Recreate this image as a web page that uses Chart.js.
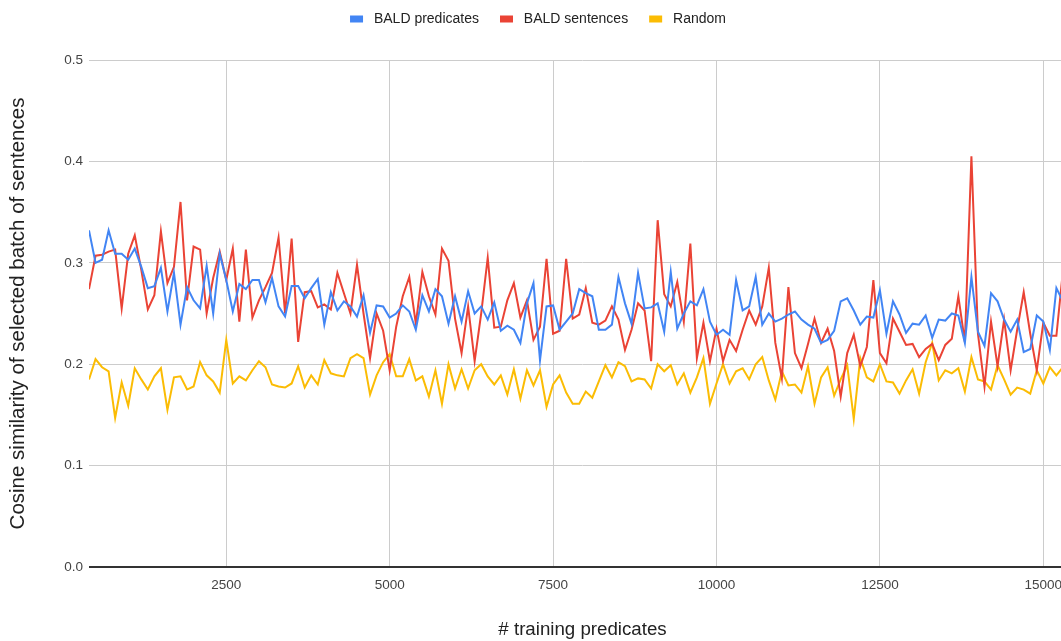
<!DOCTYPE html>
<html>
<head>
<meta charset="utf-8">
<script src="https://cdn.jsdelivr.net/npm/chart.js@4.4.1/dist/chart.umd.min.js"></script>
<style>
  html, body { margin: 0; padding: 0; overflow: hidden; background: #ffffff; }
  canvas { display: block; }
</style>
</head>
<body>
<canvas id="chart" width="1077" height="641"></canvas>
<script>
// Training set size after each acquisition batch
const firstPredicates = 400;
const predicatesPerBatch = 100;

// Mean cosine similarity inside each selected batch
const baldPredicates = [
  0.332, 0.300, 0.303, 0.332, 0.309, 0.309, 0.303, 0.314, 0.296, 0.275,
  0.277, 0.295, 0.252, 0.290, 0.239, 0.276, 0.263, 0.255, 0.297, 0.250,
  0.309, 0.283, 0.252, 0.279, 0.274, 0.283, 0.283, 0.261, 0.285, 0.257,
  0.247, 0.277, 0.277, 0.265, 0.275, 0.284, 0.239, 0.271, 0.253, 0.262,
  0.257, 0.247, 0.268, 0.231, 0.258, 0.257, 0.246, 0.250, 0.258, 0.252,
  0.234, 0.268, 0.252, 0.274, 0.267, 0.240, 0.267, 0.242, 0.272, 0.250,
  0.257, 0.244, 0.261, 0.233, 0.238, 0.234, 0.221, 0.260, 0.280, 0.204,
  0.257, 0.258, 0.234, 0.242, 0.250, 0.274, 0.270, 0.267, 0.234, 0.234,
  0.239, 0.286, 0.260, 0.240, 0.290, 0.255, 0.256, 0.260, 0.232, 0.291,
  0.235, 0.250, 0.262, 0.258, 0.274, 0.242, 0.229, 0.234, 0.229, 0.283,
  0.253, 0.257, 0.286, 0.239, 0.250, 0.242, 0.245, 0.249, 0.252, 0.244,
  0.239, 0.235, 0.221, 0.224, 0.233, 0.262, 0.265, 0.253, 0.239, 0.247,
  0.246, 0.273, 0.230, 0.262, 0.249, 0.231, 0.240, 0.239, 0.248, 0.226,
  0.244, 0.243, 0.250, 0.248, 0.221, 0.286, 0.232, 0.218, 0.270, 0.262,
  0.244, 0.232, 0.244, 0.212, 0.215, 0.248, 0.242, 0.214, 0.275, 0.262,
  0.245, 0.250
];

const baldSentences = [
  0.274, 0.307, 0.308, 0.311, 0.313, 0.255, 0.309, 0.327, 0.293, 0.254,
  0.268, 0.331, 0.280, 0.296, 0.360, 0.263, 0.316, 0.313, 0.250, 0.285,
  0.311, 0.283, 0.314, 0.242, 0.313, 0.246, 0.263, 0.276, 0.290, 0.325,
  0.250, 0.324, 0.222, 0.271, 0.272, 0.256, 0.259, 0.254, 0.290, 0.270,
  0.250, 0.298, 0.250, 0.206, 0.250, 0.233, 0.194, 0.237, 0.267, 0.286,
  0.240, 0.291, 0.267, 0.249, 0.314, 0.302, 0.245, 0.211, 0.257, 0.203,
  0.250, 0.305, 0.236, 0.237, 0.263, 0.280, 0.246, 0.263, 0.224, 0.237,
  0.304, 0.230, 0.233, 0.304, 0.245, 0.249, 0.275, 0.241, 0.239, 0.243,
  0.257, 0.244, 0.214, 0.234, 0.260, 0.253, 0.203, 0.342, 0.269, 0.257,
  0.281, 0.242, 0.319, 0.206, 0.241, 0.203, 0.235, 0.203, 0.224, 0.213,
  0.234, 0.253, 0.239, 0.257, 0.295, 0.221, 0.186, 0.276, 0.211, 0.196,
  0.220, 0.245, 0.221, 0.235, 0.213, 0.168, 0.211, 0.229, 0.198, 0.217,
  0.283, 0.211, 0.201, 0.245, 0.232, 0.219, 0.220, 0.207, 0.215, 0.220,
  0.204, 0.219, 0.225, 0.267, 0.222, 0.405, 0.230, 0.178, 0.242, 0.198,
  0.244, 0.194, 0.234, 0.271, 0.230, 0.194, 0.241, 0.228, 0.228, 0.292,
  0.250, 0.240
];

const randomBatches = [
  0.185, 0.205, 0.197, 0.193, 0.147, 0.182, 0.159, 0.196, 0.185, 0.175,
  0.188, 0.196, 0.155, 0.187, 0.188, 0.175, 0.178, 0.202, 0.189, 0.183,
  0.172, 0.224, 0.181, 0.188, 0.184, 0.194, 0.203, 0.197, 0.180, 0.178,
  0.177, 0.181, 0.198, 0.177, 0.189, 0.180, 0.204, 0.191, 0.189, 0.188,
  0.206, 0.210, 0.206, 0.170, 0.189, 0.202, 0.210, 0.188, 0.188, 0.205,
  0.184, 0.188, 0.168, 0.194, 0.161, 0.200, 0.176, 0.195, 0.176, 0.194,
  0.200, 0.188, 0.180, 0.189, 0.170, 0.195, 0.166, 0.194, 0.179, 0.194,
  0.158, 0.180, 0.189, 0.172, 0.161, 0.161, 0.173, 0.167, 0.183, 0.199,
  0.187, 0.202, 0.198, 0.183, 0.186, 0.185, 0.176, 0.200, 0.193, 0.199,
  0.180, 0.191, 0.172, 0.187, 0.206, 0.161, 0.181, 0.200, 0.181, 0.193,
  0.196, 0.185, 0.200, 0.207, 0.184, 0.165, 0.193, 0.179, 0.180, 0.172,
  0.198, 0.161, 0.187, 0.197, 0.169, 0.185, 0.199, 0.146, 0.206, 0.187,
  0.183, 0.200, 0.183, 0.182, 0.171, 0.184, 0.195, 0.171, 0.202, 0.221,
  0.184, 0.194, 0.191, 0.196, 0.173, 0.207, 0.185, 0.183, 0.175, 0.199,
  0.185, 0.170, 0.177, 0.175, 0.171, 0.194, 0.181, 0.197, 0.189, 0.197,
  0.190, 0.190
];

const seriesNames = ['BALD predicates', 'BALD sentences', 'Random'];
const xTickValues = [2500, 5000, 7500, 10000, 12500, 15000];
const yTickValues = [0, 0.1, 0.2, 0.3, 0.4, 0.5];

const FONT = '"Liberation Sans", Arial, sans-serif';
const COLORS = ['#4285F4', '#EA4335', '#FBBC04'];

const toPoints = values => values.map((v, i) => ({ x: firstPredicates + predicatesPerBatch * i, y: v }));
const lastPredicates = firstPredicates + predicatesPerBatch * (baldPredicates.length - 1);

// Leaves room between the legend row and the plot
const legendGap = {
  id: 'legendGap',
  beforeLayout(chart) {
    const lg = chart.legend;
    if (lg && !lg._gapPatched) {
      const fit = lg.fit;
      lg.fit = function () { fit.call(this); this.height += 24; };
      lg._gapPatched = true;
    }
  }
};

new Chart(document.getElementById('chart'), {
  type: 'line',
  data: {
    datasets: [baldPredicates, baldSentences, randomBatches].map((vals, k) => ({
      label: seriesNames[k],
      data: toPoints(vals),
      borderColor: COLORS[k],
      backgroundColor: COLORS[k],
      borderWidth: 2,
      pointRadius: 0,
      pointHoverRadius: 0,
      tension: 0,
      fill: false
    }))
  },
  options: {
    responsive: false,
    animation: false,
    events: [],
    layout: { padding: { top: -9, left: 0, right: 1, bottom: 0 } },
    plugins: {
      legend: {
        position: 'top',
        align: 'center',
        labels: {
          font: { family: FONT, size: 14 },
          color: '#222222',
          boxWidth: 13,
          boxHeight: 7,
          padding: 21,
          generateLabels(chart) {
            // a little extra air between each swatch and its name
            return Chart.defaults.plugins.legend.labels.generateLabels(chart)
              .map(item => Object.assign(item, { text: ' ' + item.text, lineWidth: 0 }));
          }
        }
      },
      tooltip: { enabled: false }
    },
    scales: {
      x: {
        type: 'linear',
        min: firstPredicates,
        max: lastPredicates,
        afterBuildTicks(scale) { scale.ticks = xTickValues.map(v => ({ value: v })); },
        afterFit(scale) { scale.height = 74; },
        grid: { color: '#cccccc', lineWidth: 1, drawTicks: false },
        border: { display: false },
        ticks: {
          font: { family: FONT, size: 13.5 },
          color: '#444444',
          padding: 10,
          maxRotation: 0,
          callback: v => String(v)
        },
        title: {
          display: true,
          text: '# training predicates',
          font: { family: FONT, size: 18.7 },
          color: '#222222',
          padding: { top: 0, bottom: 0 }
        }
      },
      y: {
        type: 'linear',
        min: 0,
        max: 0.5,
        afterBuildTicks(scale) { scale.ticks = yTickValues.map(v => ({ value: v })); },
        afterFit(scale) { scale.width = 89; },
        grid: {
          color: ctx => (ctx.tick && ctx.tick.value === 0 ? '#333333' : '#cccccc'),
          lineWidth: ctx => (ctx.tick && ctx.tick.value === 0 ? 2 : 1),
          drawTicks: false
        },
        border: { display: false },
        ticks: {
          font: { family: FONT, size: 13.5 },
          color: '#444444',
          padding: 6,
          callback: v => Number(v).toFixed(1)
        },
        title: {
          display: true,
          text: 'Cosine similarity of selected batch of sentences',
          font: { family: FONT, size: 20.5 },
          color: '#222222',
          padding: { top: 6, bottom: 0 }
        }
      }
    }
  },
  plugins: [legendGap]
});
</script>
</body>
</html>
